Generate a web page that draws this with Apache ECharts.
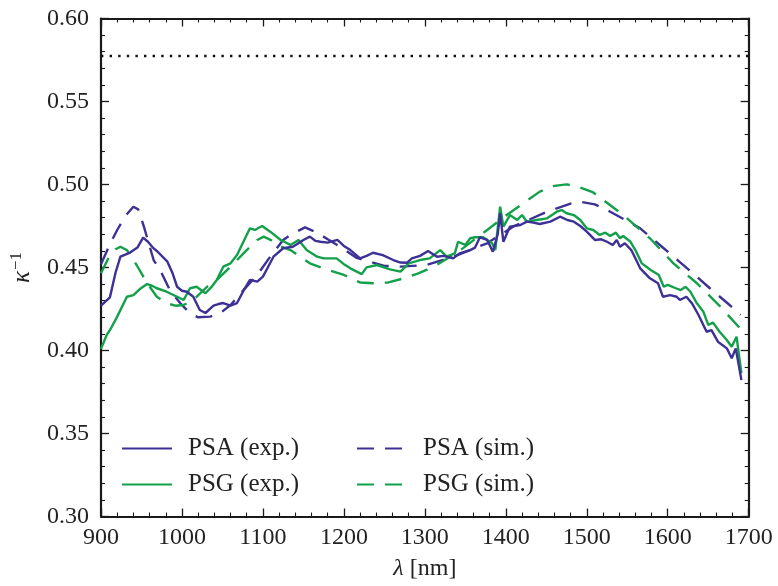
<!DOCTYPE html>
<html>
<head>
<meta charset="utf-8">
<script src="https://cdn.jsdelivr.net/npm/echarts@6/dist/echarts.min.js"></script>
<style>
  html, body { margin: 0; padding: 0; background: #fff; }
  #chart { width: 778px; height: 586px; }
</style>
</head>
<body>
<div id="chart"></div>
<script>
// Wavelength axis (nm) and inverse condition number axis
const xTicks = [900, 1000, 1100, 1200, 1300, 1400, 1500, 1600, 1700];
const yTicks = [0.30, 0.35, 0.40, 0.45, 0.50, 0.55, 0.60];

// Theoretical optimum 1/sqrt(3)
const optimumLevel = 0.5774;

// Measured PSA: [wavelength nm, kappa^-1]
const psaExp = [
  [900,0.427],[911,0.432],[918,0.447],[924,0.4565],[936,0.459],[945,0.462],[952,0.468],
  [958,0.4655],[964,0.462],[970,0.4595],[982,0.4535],[988,0.447],[994,0.4384],[1000,0.436],
  [1006,0.4354],[1014,0.4324],[1022,0.4244],[1029,0.4226],[1039,0.427],[1045,0.428],
  [1051,0.4286],[1060,0.427],[1068,0.4286],[1076,0.436],[1084,0.4425],[1093,0.4415],
  [1100,0.4445],[1106,0.450],[1113,0.4565],[1125,0.4616],[1137,0.4625],[1150,0.4666],
  [1158,0.4686],[1165,0.466],[1171,0.4655],[1180,0.465],[1192,0.4666],[1200,0.463],
  [1208,0.4605],[1220,0.4555],[1228,0.457],[1236,0.4589],[1248,0.4575],[1261,0.4545],
  [1270,0.453],[1278,0.4529],[1284,0.4555],[1294,0.457],[1304,0.460],[1315,0.4565],
  [1323,0.457],[1335,0.4555],[1343,0.4585],[1356,0.4605],[1362,0.462],[1368,0.4682],
  [1377,0.4666],[1384,0.4595],[1390,0.470],[1393,0.4827],[1397,0.4655],[1405,0.4746],
  [1418,0.4756],[1426,0.4776],[1434,0.477],[1442,0.4762],[1455,0.4776],[1467,0.4806],
  [1476,0.4786],[1484,0.4776],[1492,0.475],[1500,0.4716],[1510,0.4666],[1518,0.467],
  [1525,0.4655],[1532,0.4636],[1537,0.4666],[1541,0.4625],[1547,0.4646],[1555,0.4605],
  [1566,0.4495],[1578,0.4435],[1588,0.4405],[1594,0.4324],[1603,0.4334],[1611,0.4324],
  [1615,0.4304],[1623,0.4324],[1630,0.4284],[1638,0.4214],[1648,0.4113],[1654,0.4123],
  [1662,0.4053],[1673,0.4013],[1679,0.3953],[1684,0.4013],[1691,0.3822]
];

// Measured PSG
const psgExp = [
  [900,0.401],[907,0.4093],[913,0.414],[920,0.4204],[932,0.4324],[940,0.4334],[948,0.437],
  [957,0.440],[963,0.439],[969,0.4375],[981,0.4354],[994,0.4324],[1002,0.4304],[1010,0.4375],
  [1018,0.4384],[1029,0.4345],[1036,0.438],[1043,0.4425],[1051,0.4505],[1060,0.4525],
  [1068,0.4575],[1078,0.4676],[1084,0.4736],[1090,0.4726],[1099,0.475],[1109,0.4716],
  [1122,0.4666],[1134,0.4636],[1144,0.4666],[1154,0.4605],[1167,0.4565],[1175,0.4555],
  [1191,0.4555],[1200,0.452],[1208,0.4495],[1222,0.446],[1228,0.4501],[1241,0.4515],
  [1257,0.4489],[1270,0.4475],[1280,0.4525],[1294,0.4545],[1306,0.4555],[1319,0.4605],
  [1327,0.4565],[1337,0.4585],[1341,0.4655],[1350,0.4636],[1356,0.4676],[1362,0.4682],
  [1372,0.4682],[1383,0.4646],[1387,0.4605],[1393,0.4866],[1397,0.4746],[1405,0.4816],
  [1414,0.4786],[1420,0.4816],[1426,0.4776],[1438,0.4786],[1451,0.4796],[1463,0.4836],
  [1469,0.4846],[1475,0.4827],[1484,0.4816],[1492,0.4786],[1500,0.4736],[1508,0.4726],
  [1516,0.4696],[1523,0.471],[1529,0.469],[1536,0.471],[1541,0.4676],[1545,0.469],
  [1554,0.4655],[1560,0.4605],[1568,0.4525],[1579,0.4485],[1589,0.4455],[1595,0.4384],
  [1600,0.4395],[1610,0.4375],[1616,0.4364],[1622,0.4384],[1628,0.4354],[1636,0.4284],
  [1644,0.4234],[1650,0.4154],[1656,0.4168],[1664,0.4113],[1673,0.4063],[1679,0.4023],
  [1685,0.4083],[1691,0.3863]
];

// Simulated PSA
const psaSim = [
  [900,0.452],[910,0.463],[920,0.4726],[930,0.481],[940,0.4866],[946,0.485],[953,0.4746],
  [965,0.4545],[973,0.4485],[985,0.4364],[998,0.4284],[1010,0.4224],[1020,0.420],
  [1035,0.4204],[1047,0.4224],[1060,0.4274],[1076,0.4364],[1093,0.4455],[1109,0.4565],
  [1125,0.4666],[1134,0.4696],[1152,0.4742],[1167,0.471],[1180,0.467],[1200,0.461],
  [1215,0.456],[1232,0.4535],[1250,0.451],[1270,0.4505],[1302,0.4515],[1335,0.4565],
  [1377,0.4646],[1409,0.4746],[1451,0.4836],[1480,0.4885],[1492,0.4896],[1510,0.488],
  [1529,0.4836],[1566,0.4736],[1595,0.4616],[1624,0.4495],[1652,0.4375],[1675,0.428],
  [1690,0.4215]
];

// Simulated PSG
const psgSim = [
  [900,0.4465],[910,0.4565],[918,0.461],[924,0.4625],[932,0.4605],[944,0.4515],[957,0.4405],
  [969,0.4324],[981,0.4284],[992,0.427],[1002,0.4274],[1014,0.4304],[1031,0.4384],
  [1043,0.4425],[1060,0.4505],[1080,0.4605],[1093,0.4666],[1101,0.4686],[1110,0.4665],
  [1117,0.4636],[1134,0.4605],[1158,0.4525],[1175,0.4495],[1200,0.4455],[1220,0.441],
  [1237,0.4405],[1255,0.441],[1274,0.4435],[1292,0.4465],[1311,0.4505],[1340,0.459],
  [1377,0.4726],[1401,0.4816],[1442,0.4957],[1460,0.4992],[1475,0.5001],[1490,0.4985],
  [1508,0.4952],[1545,0.4816],[1578,0.4676],[1607,0.4525],[1636,0.4405],[1665,0.4264],
  [1690,0.413]
];

const PURPLE = '#3d3196';
const GREEN = '#13a04a';
const FONT = 'Liberation Serif';
const FS = 24;
const DASH = [17, 11];

const chart = echarts.init(document.getElementById('chart'), null, { renderer: 'canvas' });

const frameLine = { show: true, onZero: false, lineStyle: { color: '#1a1a1a', width: 2.2 } };
const tick = { show: true, inside: true, length: 8, lineStyle: { color: '#1a1a1a', width: 1.3 } };
const minor = { show: true, splitNumber: 5, length: 4, lineStyle: { color: '#1a1a1a', width: 1.1 } };

const xBase = {
  type: 'value', min: xTicks[0], max: xTicks[xTicks.length - 1], interval: 100,
  axisLine: frameLine, axisTick: tick, minorTick: minor, splitLine: { show: false }
};
const yBase = {
  type: 'value', min: yTicks[0], max: yTicks[yTicks.length - 1], interval: 0.05,
  axisLine: frameLine, axisTick: tick, minorTick: minor, splitLine: { show: false }
};

function line(name, data, color, dashed) {
  return {
    name, type: 'line', data, showSymbol: false, symbol: 'none',
    lineStyle: { color, width: 2.4, type: dashed ? DASH : 'solid' },
    itemStyle: { color }, animation: false, z: dashed ? 3 : 4
  };
}

const legendText = { fontFamily: FONT, fontSize: 25, color: '#222', lineHeight: 24, padding: [0, 0, 0, 11] };
const legendCommon = {
  orient: 'vertical', top: 436, padding: 0,
  itemWidth: 50, itemHeight: 14, itemGap: 11,
  itemStyle: { opacity: 0 },
  textStyle: legendText
};

chart.setOption({
  animation: false,
  grid: { left: 100.7, right: 29.3, top: 18.5, bottom: 69.5, containLabel: false },
  xAxis: [
    Object.assign({}, xBase, {
      position: 'bottom',
      axisLabel: { fontFamily: FONT, fontSize: FS, color: '#222', margin: 9, formatter: v => String(v) },
      name: '{i|λ} [nm]', nameLocation: 'middle', nameGap: 40,
      nameTextStyle: {
        fontFamily: FONT, fontSize: FS, color: '#222',
        rich: { i: { fontFamily: FONT, fontSize: FS, fontStyle: 'italic', color: '#222' } }
      }
    }),
    Object.assign({}, xBase, { position: 'top', axisLabel: { show: false } })
  ],
  yAxis: [
    Object.assign({}, yBase, {
      position: 'left',
      axisLabel: {
        fontFamily: FONT, fontSize: FS, color: '#222', margin: 12,
        formatter: v => v.toFixed(2)
      },
      name: '{k|κ}{s|−1}', nameLocation: 'middle', nameGap: 64, nameRotate: 90,
      nameTextStyle: {
        rich: {
          k: { fontFamily: FONT, fontSize: 25, fontStyle: 'italic', color: '#222' },
          s: { fontFamily: FONT, fontSize: 17, color: '#222', padding: [0, 0, 12, 1] }
        }
      }
    }),
    Object.assign({}, yBase, { position: 'right', axisLabel: { show: false } })
  ],
  legend: [
    Object.assign({ data: ['PSA (exp.)', 'PSG (exp.)'], left: 121 }, legendCommon),
    Object.assign({ data: ['PSA (sim.)', 'PSG (sim.)'], left: 356 }, legendCommon)
  ],
  series: [
    {
      name: 'optimum', type: 'line', showSymbol: false, symbol: 'none', silent: true,
      data: [[xTicks[0], optimumLevel], [xTicks[xTicks.length - 1], optimumLevel]],
      lineStyle: { color: '#111', width: 2.4, type: [2.4, 6.2] }, z: 2
    },
    line('PSA (sim.)', psaSim, PURPLE, true),
    line('PSG (sim.)', psgSim, GREEN, true),
    line('PSG (exp.)', psgExp, GREEN, false),
    line('PSA (exp.)', psaExp, PURPLE, false)
  ]
});
</script>
</body>
</html>
